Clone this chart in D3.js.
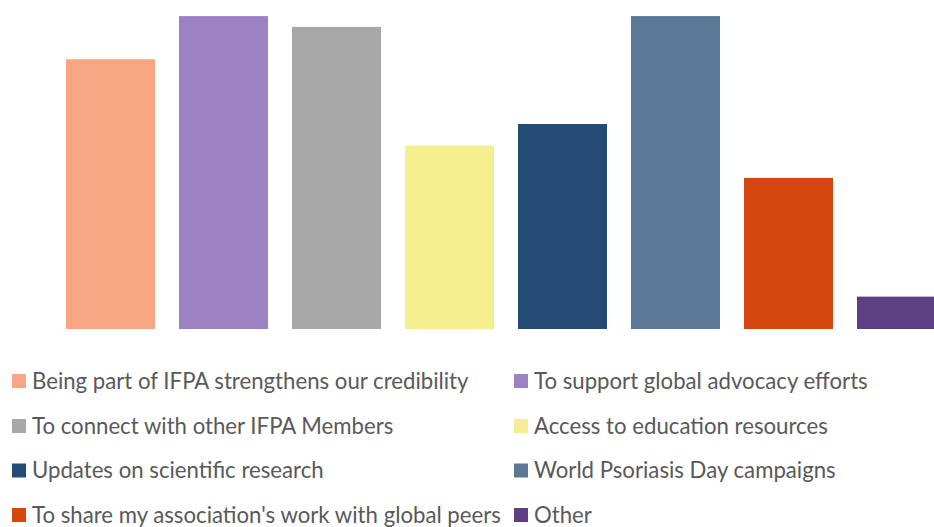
<!DOCTYPE html>
<html>
<head>
<meta charset="utf-8">
<script src="https://cdn.jsdelivr.net/npm/d3@7"></script>
<style>
  html, body { margin: 0; padding: 0; background: #fff; }
  svg { display: block; }
</style>
</head>
<body>
<svg id="chart" width="934" height="527"></svg>
<script>
// Reasons for IFPA membership (number of responses)
const categories = [
  "Being part of IFPA strengthens our credibility",
  "To support global advocacy efforts",
  "To connect with other IFPA Members",
  "Access to education resources",
  "Updates on scientific research",
  "World Psoriasis Day campaigns",
  "To share my association's work with global peers",
  "Other"
];
const responses = [25, 29, 28, 17, 19, 29, 14, 3];
const colors = ["#F7A582", "#9E81C2", "#A8A8A8", "#F5EF90", "#244B76", "#5A7896", "#D4480E", "#5E3F83"];

const svg = d3.select("#chart");

// Plot area; the last bar runs past the right edge of the canvas
const x = d3.scaleBand()
  .domain(categories)
  .range([54, 54 + 113 * categories.length])
  .paddingInner(24 / 113)
  .paddingOuter(24 / 113 / 2);

const y = d3.scaleLinear()
  .domain([0, 30])
  .range([329, 329 - 30 * 10.79]);

svg.append("g")
  .selectAll("rect")
  .data(categories)
  .join("rect")
  .attr("x", d => x(d))
  .attr("width", x.bandwidth())
  .attr("y", (d, i) => y(responses[i]))
  .attr("height", (d, i) => y(0) - y(responses[i]))
  .attr("fill", (d, i) => colors[i]);

// Legend: two columns, four rows
const legend = svg.append("g")
  .style("font-family", "Lato, 'Open Sans', sans-serif")
  .style("font-size", "22.2px")
  .attr("fill", "#595959");

const colX = [12, 514];
const rowY = [381, 426, 470.5, 515];

const item = legend.selectAll("g")
  .data(categories)
  .join("g")
  .attr("transform", (d, i) => `translate(${colX[i % 2]},${rowY[Math.floor(i / 2)]})`);

item.append("rect")
  .attr("x", 0)
  .attr("y", -7)
  .attr("width", 14)
  .attr("height", 14)
  .attr("fill", (d, i) => colors[i]);

item.append("text")
  .attr("x", 20)
  .attr("y", 0)
  .attr("dy", "0.35em")
  .text(d => d);
</script>
</body>
</html>
